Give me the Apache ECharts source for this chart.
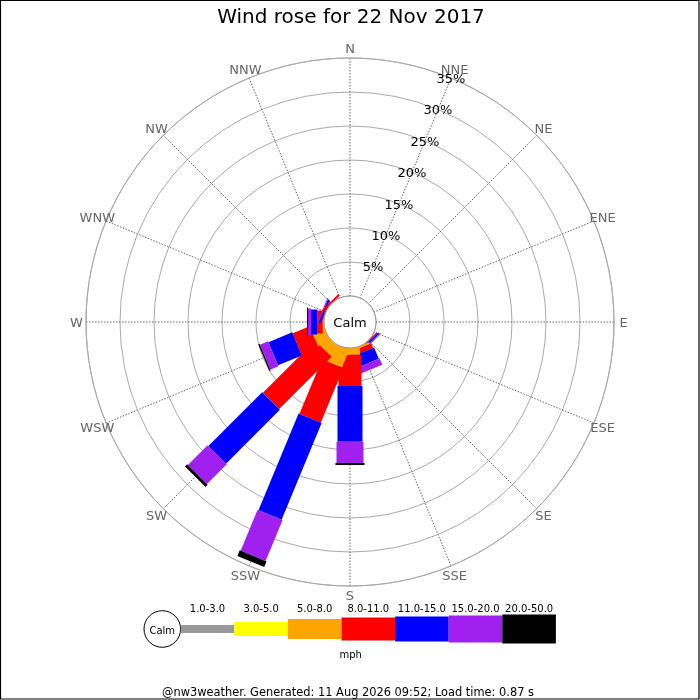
<!DOCTYPE html>
<html>
<head>
<meta charset="utf-8">
<script src="https://cdn.jsdelivr.net/npm/echarts@6/dist/echarts.min.js"></script>
<style>
html,body{margin:0;padding:0;background:#fff;}
#chart{width:700px;height:700px;}
</style>
</head>
<body>
<div id="chart"></div>
<script>
// ---- data ----
const directions = ['N','NNE','NE','ENE','E','ESE','SE','SSE','S','SSW','SW','WSW','W','WNW','NW','NNW'];
const speedClasses = ['1.0-3.0','3.0-5.0','5.0-8.0','8.0-11.0','11.0-15.0','15.0-20.0','20.0-50.0'];
// percentage of time per direction for each speed class (mph)
const spd1to3   = [0,0,0,0,0,0,0,0,0,0,0,0,0,0,0,0];
const spd3to5   = [0,0,0,0,0,0,0,0,0,0,0,0,0,0,0,0];
const spd5to8   = [0,0,0,0,0,0,0,0.3,1.0,2.8,1.7,1.9,0.2,0,0,0];
const spd8to11  = [0,0,0,0,0,0,0.2,0.7,4.6,8.7,10.9,2.7,0.8,0.15,0.3,0];
const spd11to15 = [0,0,0,0,0,0,0.25,1.8,8.2,15.4,11.2,3.8,0.9,0.3,0,0];
const spd15to20 = [0,0,0,0,0,0,0.15,1.0,3.1,6.5,4.1,1.3,0.45,0.15,0,0];
const spd20to50 = [0,0,0,0,0,0,0,0,0.3,0.9,0.45,0.2,0.15,0,0,0];
const pctTicks = [5,10,15,20,25,30,35];
const titleText = 'Wind rose for 22 Nov 2017';
const footerText = '@nw3weather. Generated: 11 Aug 2026 09:52; Load time: 0.87 s';
const unitText = 'mph';
const calmText = 'Calm';

// ---- styles ----
const classColors = ['#999999','#ffff00','#ffa500','#ff0000','#0000ff','#a020f0','#000000'];
const classWidths = [8,14,20,23,25,27,29];
const FONT = 'DejaVu Sans';
const TXT_DY = 1.5; // visual centring correction for middle-aligned text

const classSeries = [spd1to3, spd3to5, spd5to8, spd8to11, spd11to15, spd15to20, spd20to50];
const step = 360 / directions.length;
const segData = [];
directions.forEach((d, i) => {
  let cum = 0;
  classSeries.forEach((arr, k) => {
    const v = arr[i];
    if (v > 0) segData.push([cum, cum + v, i * step, k]);
    cum += v;
  });
});
const dirLabelData = directions.map((d, i) => [36.4, i * step, d]);
const tickLabelData = pctTicks.map(v => [v, step]);

const chart = echarts.init(document.getElementById('chart'), null, {renderer: 'canvas'});

function txt(x, y, text, size, color) {
  return {type:'text', x:x, y:y + TXT_DY, style:{text:text, font:size + 'px "' + FONT + '"', fill:color || '#000', align:'center', verticalAlign:'middle'}};
}

// legend graphics
const legendGraphics = [];
const lgX0 = 180.7, lgW = 53.6, lgY = 629;
legendGraphics.push({type:'circle', shape:{cx:162.3, cy:lgY, r:18.3}, style:{fill:'#fff', stroke:'#000', lineWidth:1}});
legendGraphics.push(txt(162.3, 629.5, calmText, 10));
speedClasses.forEach((lab, k) => {
  const h = classWidths[k];
  legendGraphics.push({type:'rect', shape:{x:lgX0 + k*lgW, y:lgY - h/2, width:lgW, height:h}, style:{fill:classColors[k]}});
  legendGraphics.push(txt(lgX0 + k*lgW + lgW/2, 607.5, lab, 10));
});
legendGraphics.push(txt(350.7, 653.5, unitText, 10));
legendGraphics.push(txt(348, 692, footerText, 11.4));
legendGraphics.push(txt(351, 16.5, titleText, 20));
legendGraphics.push({type:'rect', shape:{x:0.5, y:0.5, width:698.5, height:698.5}, style:{fill:'none', stroke:'#000', lineWidth:1.2}, z:100});

const option = {
  animation: false,
  backgroundColor: '#fff',
  textStyle: {fontFamily: FONT},
  polar: {center: [350, 322], radius: [26, 264]},
  radiusAxis: {
    type: 'value', min: 0, max: 35, interval: 5,
    axisLine: {show: false}, axisTick: {show: false}, axisLabel: {show: false},
    splitLine: {show: true, lineStyle: {color: '#aaaaaa', width: 1}}
  },
  angleAxis: {
    type: 'value', min: 0, max: 360, interval: step, startAngle: 90, clockwise: true,
    axisLine: {show: true, lineStyle: {color: '#aaaaaa', width: 1}},
    axisTick: {show: false}, axisLabel: {show: false},
    splitLine: {show: true, lineStyle: {color: '#666666', width: 1, type: [1.5, 1.5]}}
  },
  graphic: legendGraphics,
  series: [
    {
      type: 'custom', coordinateSystem: 'polar', z: 2,
      data: segData,
      encode: {radius: 1, angle: 2},
      renderItem: function (params, api) {
        const r0 = api.value(0), r1 = api.value(1), ang = api.value(2), k = api.value(3);
        const p0 = api.coord([r0, ang]);
        const p1 = api.coord([r1, ang]);
        const cs = params.coordSys;
        const dx = p1[0] - cs.cx, dy = p1[1] - cs.cy;
        const len = Math.sqrt(dx*dx + dy*dy) || 1;
        const nx = -dy / len, ny = dx / len;
        const hw = classWidths[k] / 2;
        return {
          type: 'polygon',
          shape: {points: [
            [p0[0] + nx*hw, p0[1] + ny*hw],
            [p1[0] + nx*hw, p1[1] + ny*hw],
            [p1[0] - nx*hw, p1[1] - ny*hw],
            [p0[0] - nx*hw, p0[1] - ny*hw]
          ]},
          style: {fill: classColors[k], stroke: null}
        };
      }
    },
    {
      type: 'custom', coordinateSystem: 'polar', z: 5,
      data: [[0, 0]],
      encode: {radius: 0, angle: 1},
      renderItem: function (params, api) {
        const cs = params.coordSys;
        return {
          type: 'group',
          children: [
            {type: 'circle', shape: {cx: cs.cx, cy: cs.cy, r: cs.r0}, style: {fill: '#fff', stroke: '#999999', lineWidth: 1}},
            txt(cs.cx, cs.cy, calmText, 13)
          ]
        };
      }
    },
    {
      type: 'custom', coordinateSystem: 'polar', z: 6,
      data: dirLabelData,
      encode: {radius: 0, angle: 1},
      renderItem: function (params, api) {
        const p = api.coord([api.value(0), api.value(1)]);
        return txt(p[0], p[1], dirLabelData[params.dataIndex][2], 13, '#666666');
      }
    },
    {
      type: 'custom', coordinateSystem: 'polar', z: 6,
      data: tickLabelData,
      encode: {radius: 0, angle: 1},
      renderItem: function (params, api) {
        const v = api.value(0);
        const p = api.coord([v, api.value(1)]);
        return txt(p[0], p[1], v + '%', 13, '#000');
      }
    }
  ]
};
chart.setOption(option);
</script>
</body>
</html>
